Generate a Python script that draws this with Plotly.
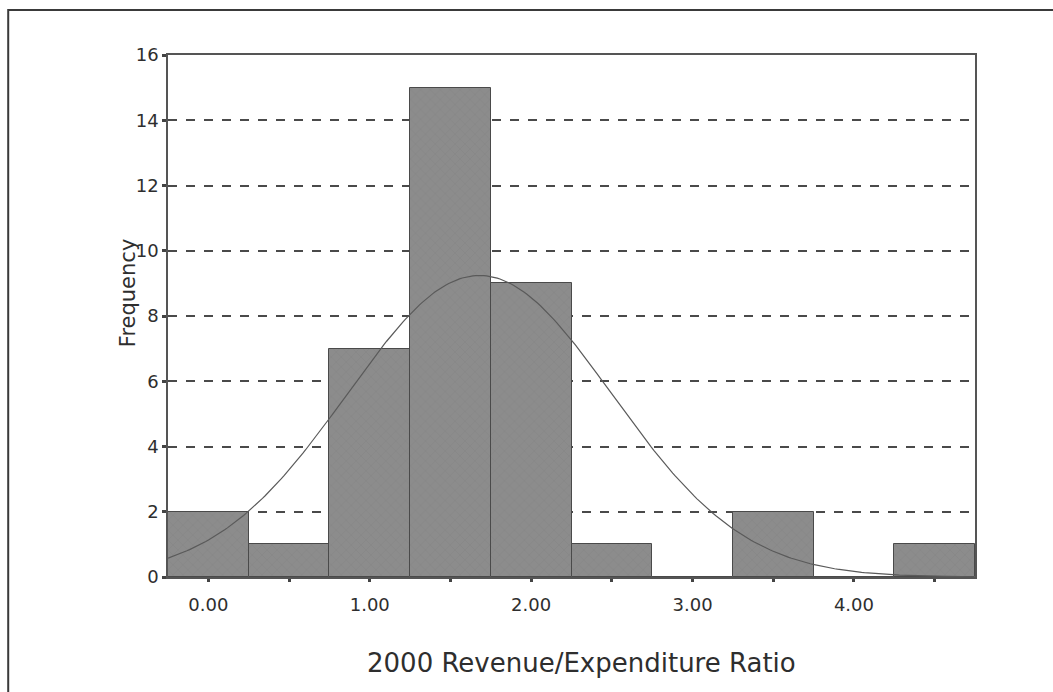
import numpy as np
import plotly.graph_objects as go

# Histogram of the 2000 revenue/expenditure ratio (bin width 0.5)
bin_centers = [0.0, 0.5, 1.0, 1.5, 2.0, 2.5, 3.0, 3.5, 4.0, 4.5]
frequencies = [2, 1, 7, 15, 9, 1, 0, 2, 0, 1]
bin_width = 0.5

# Normal-curve summary statistics
n_obs = 38
ratio_mean = 1.68
ratio_sd = 0.82

x_tick_vals = [0.0, 0.5, 1.0, 1.5, 2.0, 2.5, 3.0, 3.5, 4.0, 4.5]
x_tick_text = ["0.00", "", "1.00", "", "2.00", "", "3.00", "", "4.00", ""]
y_tick_vals = [0, 2, 4, 6, 8, 10, 12, 14, 16]

FONT = "DejaVu Sans, Arial, sans-serif"
TEXT_COLOR = "#2e2e2e"

curve_x = np.linspace(-0.25, 4.75, 300)
curve_y = (n_obs * bin_width / (ratio_sd * np.sqrt(2 * np.pi))
           * np.exp(-0.5 * ((curve_x - ratio_mean) / ratio_sd) ** 2))

fig = go.Figure()

fig.add_trace(go.Bar(
    x=bin_centers,
    y=frequencies,
    width=bin_width,
    marker=dict(
        color="#8a8a8a",
        line=dict(color="#4a4a4a", width=1),
        pattern=dict(shape="x", fgcolor="#7c7c7c", bgcolor="#8c8c8c",
                     size=7, solidity=0.15),
    ),
    showlegend=False,
    hoverinfo="x+y",
))

fig.add_trace(go.Scatter(
    x=curve_x,
    y=curve_y,
    mode="lines",
    line=dict(color="#5a5a5a", width=1.2),
    showlegend=False,
    hoverinfo="skip",
))

# Outer frame around the whole chart
fig.add_shape(type="rect", xref="paper", yref="paper",
              x0=-0.198, x1=1.12, y0=-0.26, y1=1.086,
              line=dict(color="#3a3a3a", width=2), layer="below")

fig.add_annotation(
    text="Frequency", xref="paper", yref="paper",
    x=-0.05, y=0.545, xanchor="center", yanchor="middle",
    textangle=-90, showarrow=False,
    font=dict(family=FONT, size=21, color=TEXT_COLOR),
)
fig.add_annotation(
    text="2000 Revenue/Expenditure Ratio", xref="paper", yref="paper",
    x=0.512, y=-0.165, xanchor="center", yanchor="middle", showarrow=False,
    font=dict(family=FONT, size=26, color=TEXT_COLOR),
)

fig.update_layout(
    width=1053,
    height=692,
    margin=dict(l=168, r=78, t=55, b=115),
    paper_bgcolor="white",
    plot_bgcolor="white",
    bargap=0,
    font=dict(family=FONT, size=18, color=TEXT_COLOR),
    xaxis=dict(
        range=[-0.25, 4.75],
        tickvals=x_tick_vals,
        ticktext=x_tick_text,
        tickfont=dict(family=FONT, size=18, color=TEXT_COLOR),
        ticks="outside",
        ticklen=3,
        tickwidth=3,
        tickcolor="#444444",
        showgrid=False,
        zeroline=False,
        showline=True,
        linecolor="#555555",
        linewidth=1.5,
        mirror=True,
        ticklabelstandoff=8,
    ),
    yaxis=dict(
        range=[0, 16],
        tickvals=y_tick_vals,
        tickfont=dict(family=FONT, size=18, color=TEXT_COLOR),
        ticks="outside",
        ticklen=4,
        tickwidth=3,
        tickcolor="#444444",
        showgrid=True,
        gridcolor="#4a4a4a",
        griddash="dash",
        gridwidth=1.5,
        zeroline=False,
        showline=True,
        linecolor="#555555",
        linewidth=1.5,
        mirror=True,
    ),
)

fig.write_html("out.html")
